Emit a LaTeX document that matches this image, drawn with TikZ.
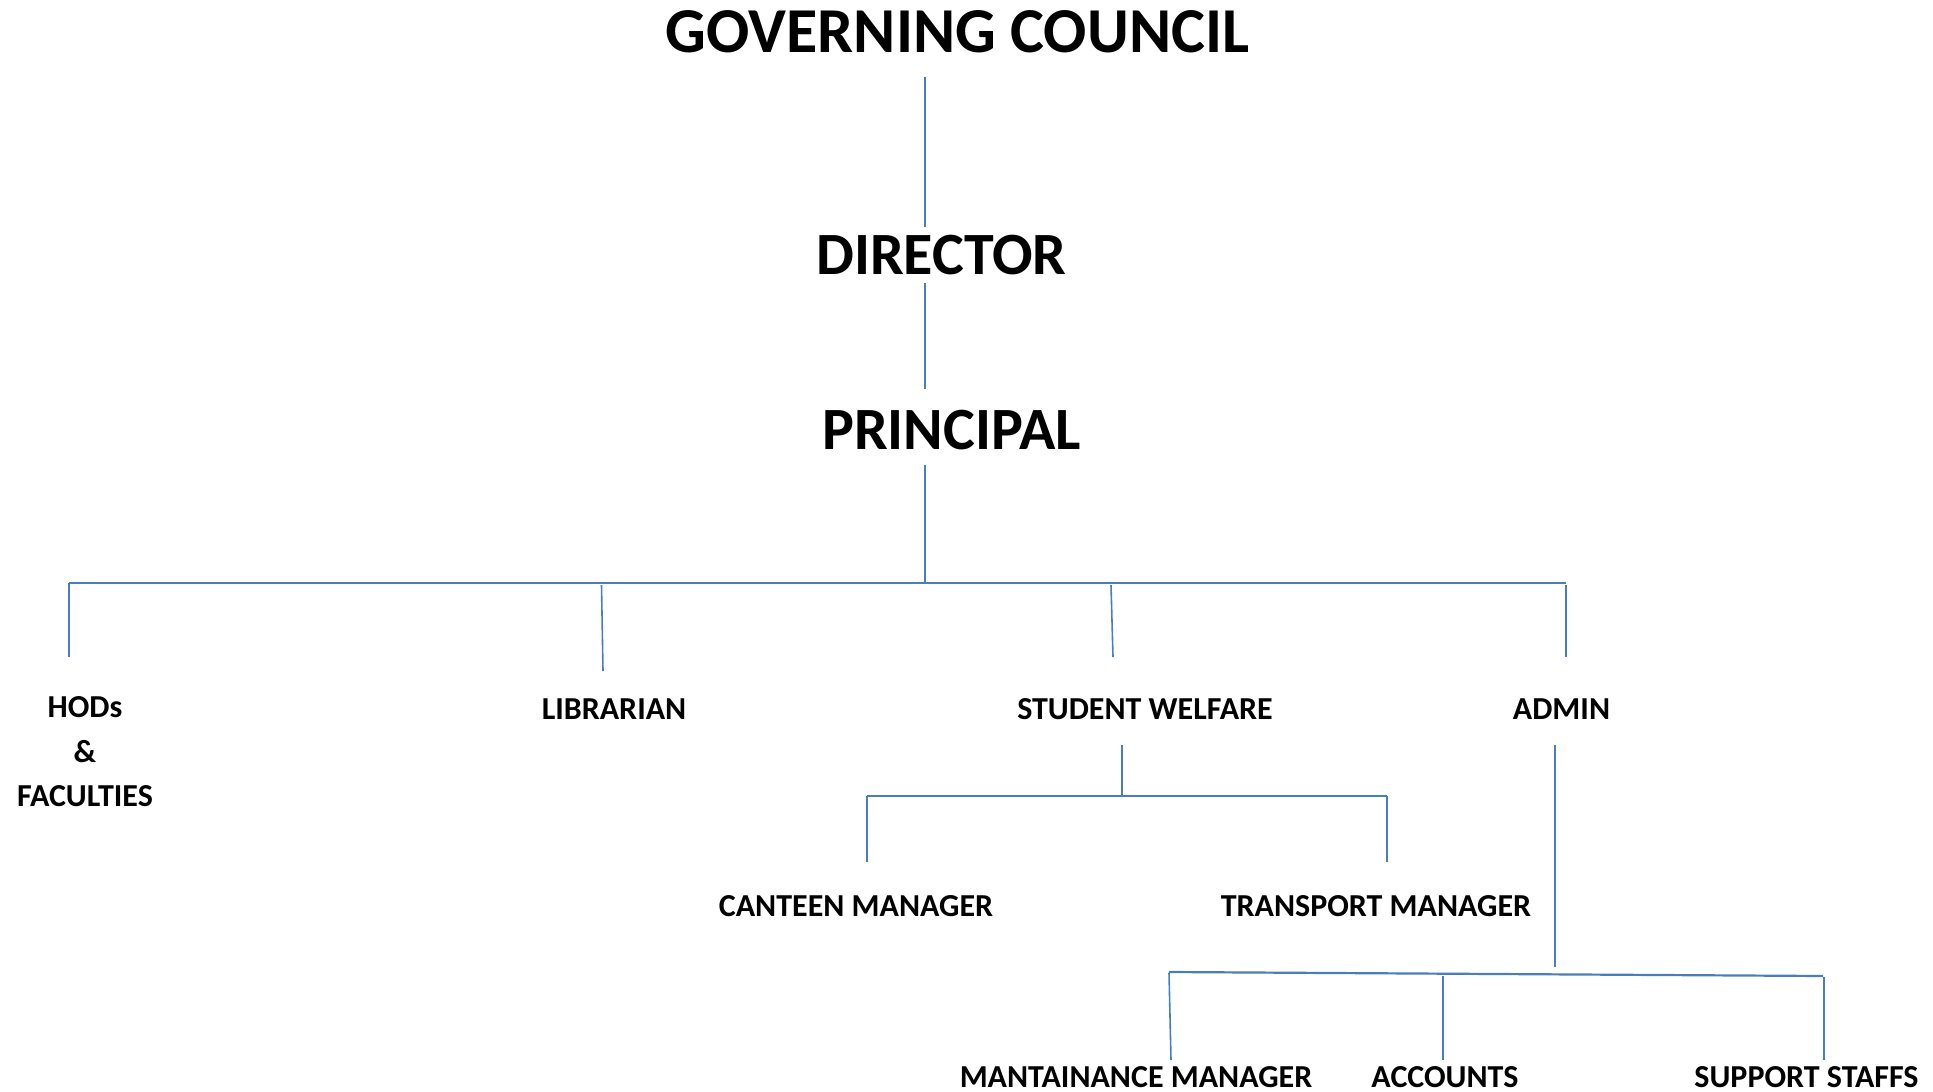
\documentclass[tikz,border=0pt]{standalone}
\usepackage{fontspec}
\usepackage{xcolor}
\usepackage{tikz}
\setmainfont{Carlito}

\definecolor{orgblue}{RGB}{74,126,187}

\tikzset{
  head/.style={anchor=base,inner sep=0.75pt,font=\fontsize{30}{36}\selectfont\bfseries},
  unit/.style={anchor=base,inner sep=0.75pt,font=\fontsize{16}{22}\selectfont\bfseries,align=center},
  link/.style={draw=orgblue,line width=0.8pt},
  bar/.style={draw=orgblue,line width=1.1pt},
}

\begin{document}
\begin{tikzpicture}[x=0.5pt,y=0.5pt,yscale=-1,xscale=1]
\useasboundingbox (0,0) rectangle (1933,1092);

% Text Node
\node [head,font=\fontsize{32}{38}\selectfont\bfseries] (gc) at (957.5,53) {GOVERNING COUNCIL};
% Text Node
\node [head] (dir) at (941.5,274) {DIRECTOR};
% Text Node
\node [head] (prin) at (951.5,449.5) {PRINCIPAL};
% Text Node
\node [unit,anchor=north] (hod) at (85,695) {HODs\\[0.2pt]\&\\[0.2pt]FACULTIES};
% Text Node
\node [unit] (lib) at (614,719) {LIBRARIAN};
% Text Node
\node [unit] (sw) at (1145,719) {STUDENT WELFARE};
% Text Node
\node [unit] (adm) at (1561.5,719) {ADMIN};
% Text Node
\node [unit] (cant) at (856,916) {CANTEEN MANAGER};
% Text Node
\node [unit] (trans) at (1376,916) {TRANSPORT MANAGER};
% Text Node
\node [unit] (mant) at (1136,1087) {MANTAINANCE MANAGER};
% Text Node
\node [unit] (acc) at (1445,1087) {ACCOUNTS};
% Text Node
\node [unit] (sup) at (1806.5,1087) {SUPPORT STAFFS};

% line ends
\coordinate (gcb) at (925,76.5);
\coordinate (dirt) at (925,226.5);
\coordinate (dirb) at (925,283);
\coordinate (print) at (925,389);
\coordinate (prinb) at (925,465);
\coordinate (top) at (925,583);
\coordinate (barl) at (69,583);
\coordinate (barr) at (1566,583);
\coordinate (hodt) at (69,657);
\coordinate (libb) at (601.5,585);
\coordinate (libt) at (603,671);
\coordinate (swb) at (1111,585);
\coordinate (swt) at (1113,657);
\coordinate (admb) at (1566,585);
\coordinate (admt) at (1566,657);
\coordinate (swd) at (1122,745);
\coordinate (swj) at (1122,795.5);
\coordinate (subl) at (867,796);
\coordinate (subr) at (1387,796);
\coordinate (cantt) at (867,862);
\coordinate (transt) at (1387,862);
\coordinate (admd) at (1555,745);
\coordinate (admj) at (1555,966.5);
\coordinate (lowl) at (1169,972);
\coordinate (lowr) at (1823,976);
\coordinate (mantb) at (1169,972.5);
\coordinate (mantt) at (1171,1060);
\coordinate (accb) at (1443,976);
\coordinate (acct) at (1443,1060);
\coordinate (supb) at (1824,977);
\coordinate (supt) at (1824,1060);

%Straight Lines
\draw [link] (gcb) -- (dirt);
\draw [link] (dirb) -- (print);
\draw [link] (prinb) -- (top);
%Straight Lines
\draw [bar] (barl) -- (barr);
\draw [link] (barl) -- (hodt);
\draw [link] (libb) -- (libt);
\draw [link] (swb) -- (swt);
\draw [link] (admb) -- (admt);
%Straight Lines
\draw [link] (swd) -- (swj);
\draw [bar] (subl) -- (subr);
\draw [link] (subl) -- (cantt);
\draw [link] (subr) -- (transt);
%Straight Lines
\draw [link] (admd) -- (admj);
\draw [bar] (lowl) -- (lowr);
\draw [link] (mantb) -- (mantt);
\draw [link] (accb) -- (acct);
\draw [link] (supb) -- (supt);
\end{tikzpicture}
\end{document}
